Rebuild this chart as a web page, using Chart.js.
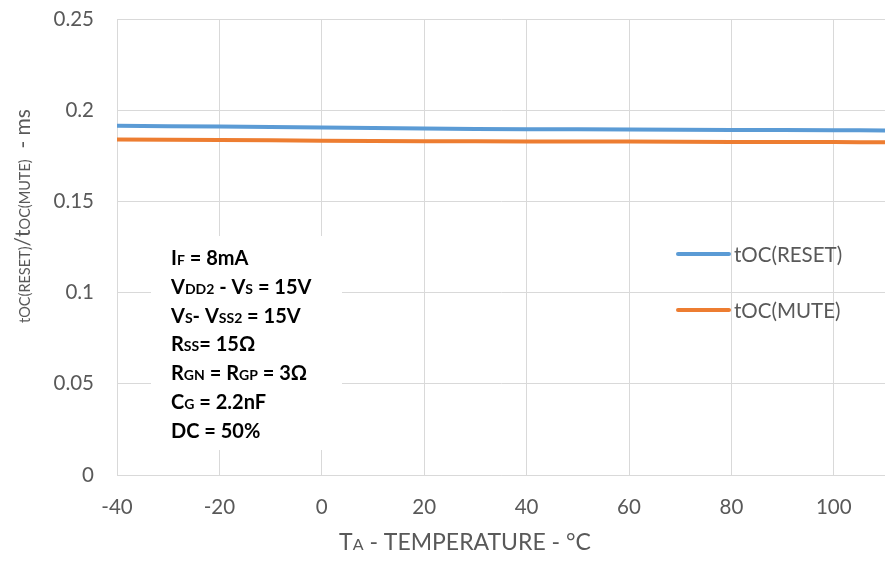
<!DOCTYPE html>
<html><head><meta charset="utf-8">
<script src="https://cdn.jsdelivr.net/npm/chart.js@4/dist/chart.umd.min.js"></script>
<style>html,body{margin:0;padding:0;background:#fff}#wrap{width:885px;height:561px}</style>
</head><body><div id="wrap"><canvas id="c" width="885" height="561"></canvas></div>
<script>
const temps = [-40, -20, 0, 20, 40, 60, 80, 100, 110];
const resetVals = [0.1915, 0.1910, 0.1905, 0.1899, 0.1896, 0.1894, 0.1892, 0.1890, 0.1889];
const muteVals  = [0.1840, 0.1837, 0.1833, 0.1830, 0.1829, 0.1828, 0.1826, 0.1825, 0.1824];
const seriesNames = ['tOC(RESET)', 'tOC(MUTE)'];
const xTickValues = [-40, -20, 0, 20, 40, 60, 80, 100];
const yTickValues = [0, 0.05, 0.1, 0.15, 0.2, 0.25];
const conditions = [
  [['I',0],['F',1],[' = 8mA',0]],
  [['V',0],['DD2',1],[' - V',0],['S',1],[' = 15V',0]],
  [['V',0],['S',1],['- V',0],['SS2',1],[' = 15V',0]],
  [['R',0],['SS',1],['= 15\u03A9',0]],
  [['R',0],['GN',1],[' = R',0],['GP',1],[' = 3\u03A9',0]],
  [['C',0],['G',1],[' = 2.2nF',0]],
  [['DC = 50%',0]]
];
const FONT = 'Lato, "Open Sans", sans-serif';
const GRAY = '#595959';

function drawRuns(ctx, runs, x, y, bigFont, smallFont) {
  let cx = x;
  for (const [t, s] of runs) {
    ctx.font = s ? smallFont : bigFont;
    ctx.fillText(t, cx, y);
    cx += ctx.measureText(t).width;
  }
  return cx - x;
}
function runsWidth(ctx, runs, bigFont, smallFont) {
  let w = 0;
  for (const [t, s] of runs) { ctx.font = s ? smallFont : bigFont; w += ctx.measureText(t).width; }
  return w;
}

const extras = {
  id: 'extras',
  afterDraw(chart) {
    const ctx = chart.ctx;
    ctx.save();
    // annotation box
    ctx.fillStyle = '#fff';
    ctx.fillRect(151, 236, 191, 214);
    ctx.fillStyle = '#000';
    ctx.textBaseline = 'alphabetic';
    ctx.textAlign = 'left';
    conditions.forEach((runs, i) => drawRuns(ctx, runs, 171, 265 + i * 28.8, 'bold 20px ' + FONT, 'bold 14px ' + FONT));
    // legend
    const ly = [254, 310];
    chart.data.datasets.forEach((ds, i) => {
      ctx.strokeStyle = ds.borderColor; ctx.lineWidth = 4; ctx.lineCap = 'round';
      ctx.beginPath(); ctx.moveTo(678, ly[i]); ctx.lineTo(729, ly[i]); ctx.stroke();
      ctx.fillStyle = GRAY; ctx.font = '20.5px ' + FONT; ctx.textBaseline = 'middle';
      ctx.fillText(ds.label, 734, ly[i] + 1);
    });
    // x title
    ctx.fillStyle = GRAY; ctx.textBaseline = 'alphabetic';
    const xt = [['T',0],['A',1],[' - TEMPERATURE - \u00B0C',0]];
    const bf = '23px ' + FONT, sf = '16px ' + FONT;
    const w = runsWidth(ctx, xt, bf, sf);
    drawRuns(ctx, xt, 465 - w / 2, 550, bf, sf);
    // y title
    ctx.translate(30, 216);
    ctx.rotate(-Math.PI / 2);
    const yt = [['tOC(RESET)',1],['/',0],['t',0],['OC(MUTE)',1],['  - ms',0]];
    const ybf = '21px ' + FONT, ysf = '14.5px ' + FONT;
    const yw = runsWidth(ctx, yt, ybf, ysf);
    drawRuns(ctx, yt, -yw / 2, 0, ybf, ysf);
    ctx.restore();
  }
};

new Chart(document.getElementById('c'), {
  type: 'line',
  data: {
    datasets: [
      { label: seriesNames[0], data: temps.map((t, i) => ({x: t, y: resetVals[i]})), borderColor: '#5b9bd5', borderWidth: 4, pointRadius: 0, tension: 0.3, fill: false },
      { label: seriesNames[1], data: temps.map((t, i) => ({x: t, y: muteVals[i]})), borderColor: '#ed7d31', borderWidth: 4, pointRadius: 0, tension: 0.3, fill: false }
    ]
  },
  plugins: [extras],
  options: {
    responsive: false, animation: false,
    layout: { padding: { top: 19, right: 0, left: 0, bottom: 0 } },
    plugins: { legend: { display: false }, tooltip: { enabled: false } },
    scales: {
      x: {
        type: 'linear', min: -40, max: 110,
        afterBuildTicks: a => { a.ticks = xTickValues.map(v => ({value: v})); },
        afterFit: a => { a.height = 86; a.paddingLeft = 0; a.paddingRight = 0; },
        grid: { color: '#d9d9d9', lineWidth: 1, drawTicks: false },
        border: { color: '#d9d9d9' },
        ticks: { padding: 20, color: GRAY, font: { family: FONT, size: 20.5 }, maxRotation: 0 }
      },
      y: {
        min: 0, max: 0.25,
        afterBuildTicks: a => { a.ticks = yTickValues.map(v => ({value: v})); },
        afterFit: a => { a.width = 117; a.paddingTop = 0; a.paddingBottom = 0; },
        grid: { color: '#d9d9d9', lineWidth: 1, drawTicks: false },
        border: { color: '#d9d9d9' },
        ticks: { padding: 23, color: GRAY, font: { family: FONT, size: 20.5 }, callback: v => String(+v.toFixed(2)) }
      }
    }
  }
});
</script></body></html>
